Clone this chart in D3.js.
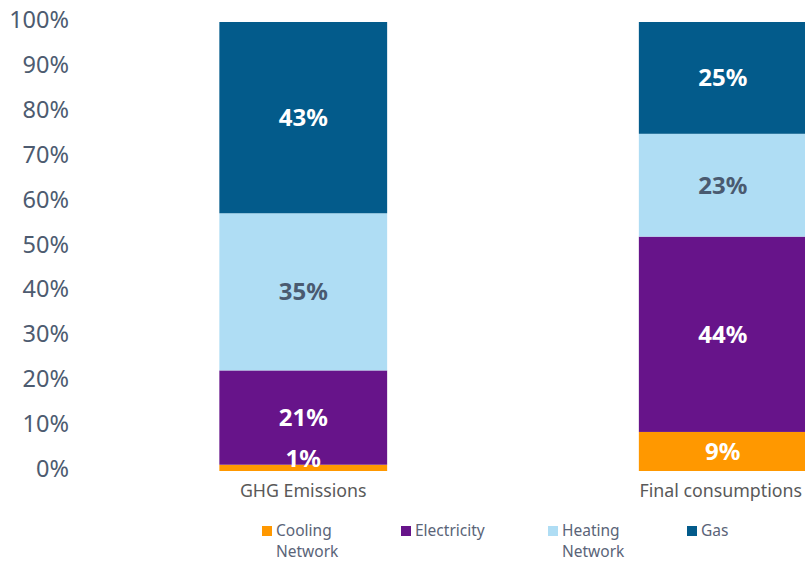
<!DOCTYPE html>
<html>
<head>
<meta charset="utf-8">
<script src="https://cdn.jsdelivr.net/npm/d3@7"></script>
<style>
  html, body { margin: 0; padding: 0; background: #ffffff; }
  svg { display: block; }
</style>
</head>
<body>
<svg id="chart" width="805" height="561"></svg>
<script>
// Share of each energy network, per indicator (%)
const categories = ["GHG Emissions", "Final consumptions"];
const seriesNames = ["Cooling Network", "Electricity", "Heating Network", "Gas"];
const cooling = [1.4, 8.7];
const electricity = [21.0, 43.5];
const heating = [35.0, 22.9];
const gas = [42.6, 24.9];
const yTicks = [0, 10, 20, 30, 40, 50, 60, 70, 80, 90, 100];

const colors = ["#ff9800", "#67148a", "#afddf4", "#035b8b"];
const labelColors = ["#ffffff", "#ffffff", "#4a5a70", "#ffffff"];

const svg = d3.select("#chart");
const font = "'Noto Sans', 'Open Sans', sans-serif";

const rows = categories.map((c, i) => ({
  category: c,
  "Cooling Network": cooling[i],
  "Electricity": electricity[i],
  "Heating Network": heating[i],
  "Gas": gas[i]
}));

const stacked = d3.stack().keys(seriesNames)(rows);

const x = d3.scaleBand()
  .domain(categories)
  .range([93.5, 932.5])
  .paddingInner(0.6)
  .paddingOuter(0.3);

const y = d3.scaleLinear().domain([0, 100]).range([471, 22]);

// y axis: labels only
const yAxis = d3.axisLeft(y)
  .tickValues(yTicks)
  .tickFormat(d => d + "%")
  .tickSize(0)
  .tickPadding(0);

const yg = svg.append("g")
  .attr("transform", "translate(69,-2)")
  .call(yAxis);
yg.select(".domain").remove();
yg.selectAll("text")
  .attr("font-family", font)
  .attr("font-size", 23.5)
  .attr("fill", "#4d5b70");

// stacked bars
const layers = svg.append("g").selectAll("g")
  .data(stacked)
  .join("g")
  .attr("fill", (d, i) => colors[i]);

layers.selectAll("rect")
  .data(d => d.map(v => ({ v, key: d.key })))
  .join("rect")
  .attr("x", d => x(d.v.data.category))
  .attr("width", x.bandwidth())
  .attr("y", d => y(d.v[1]))
  .attr("height", d => y(d.v[0]) - y(d.v[1]));

// value labels
const labels = svg.append("g");
stacked.forEach((layer, si) => {
  layer.forEach(v => {
    const top = y(v[1]), bottom = y(v[0]);
    const h = bottom - top;
    const cy = h < 22 ? top - 6 : (top + bottom) / 2;
    labels.append("text")
      .attr("x", x(v.data.category) + x.bandwidth() / 2)
      .attr("y", cy)
      .attr("dy", "0.35em")
      .attr("text-anchor", "middle")
      .attr("font-family", font)
      .attr("font-weight", "bold")
      .attr("font-size", 24)
      .attr("fill", labelColors[si])
      .text(d3.format(".0f")(v[1] - v[0]) + "%");
  });
});

// category axis labels
const xg = svg.append("g")
  .attr("transform", "translate(0,491)")
  .call(d3.axisBottom(x).tickSize(0).tickPadding(0));
xg.select(".domain").remove();
xg.selectAll("text")
  .attr("dy", "0.35em")
  .attr("font-family", font)
  .attr("font-size", 17.8)
  .attr("fill", "#595959");
// keep the right-hand label inside the frame
xg.selectAll(".tick").filter(d => d === categories[1])
  .select("text").attr("x", -2);

// legend
const legendX = [262, 401, 548, 687];
const legend = svg.append("g");
seriesNames.forEach((name, i) => {
  const g = legend.append("g").attr("transform", `translate(${legendX[i]},526)`);
  g.append("rect").attr("width", 10).attr("height", 10).attr("fill", colors[i]);
  const t = g.append("text")
    .attr("x", 14)
    .attr("y", 10)
    .attr("font-family", font)
    .attr("font-size", 15.5)
    .attr("fill", "#5a6478");
  name.split(" ").forEach((w, k) => {
    t.append("tspan").attr("x", 14).attr("dy", k === 0 ? 0 : 21).text(w);
  });
});
</script>
</body>
</html>
